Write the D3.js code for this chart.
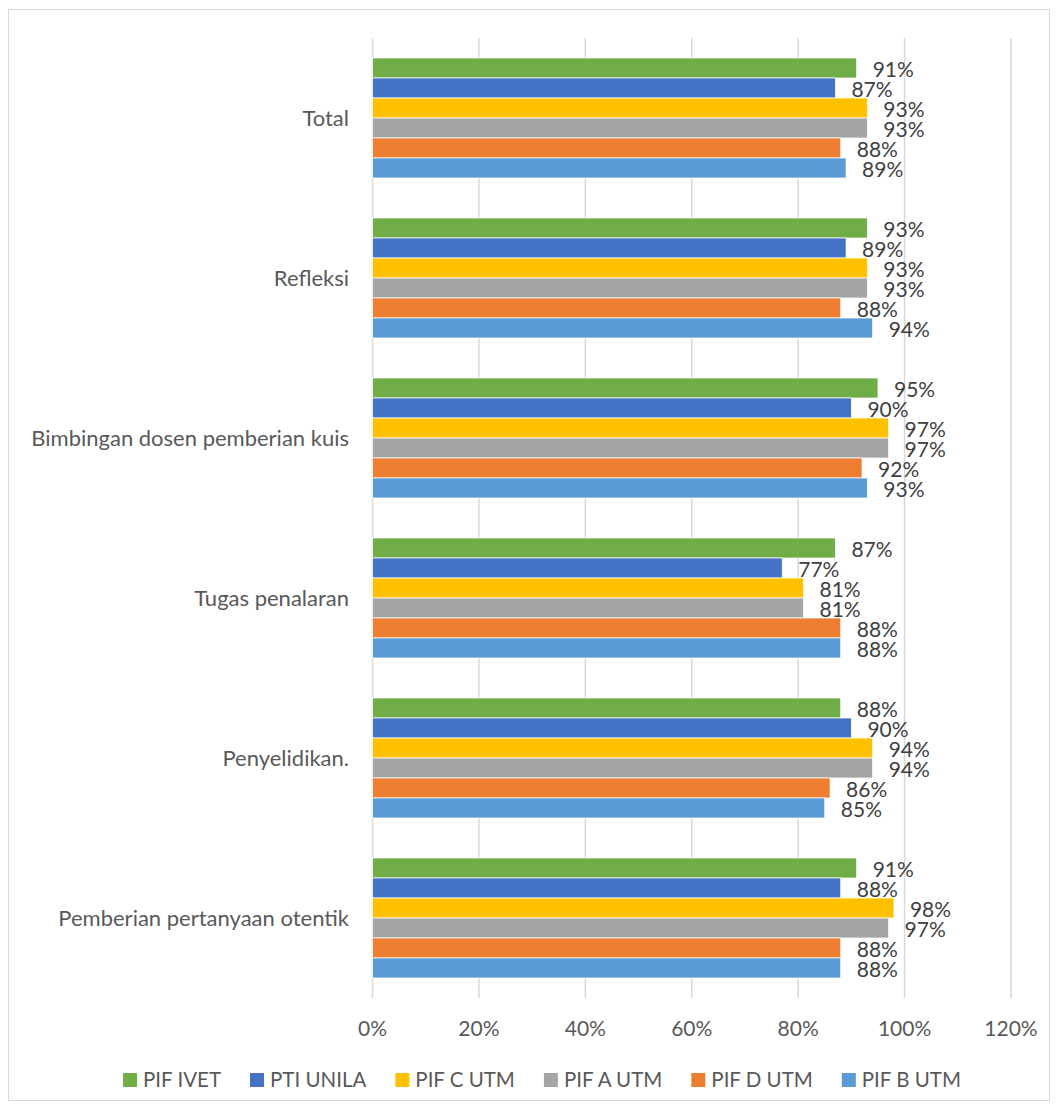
<!doctype html>
<html lang="en">
<head>
  <meta charset="utf-8">
  <title>Grouped bars</title>
  <style>
  body { margin: 0; background: #fff; }
  text { font-family: Lato, "Open Sans", sans-serif; }
  </style>
</head>
<body>
<div id="chart"></div>
<script src="https://d3js.org/d3.v7.min.js"></script>
<script>
// categories, top to bottom as drawn
var categories = ["Total", "Refleksi", "Bimbingan dosen pemberian kuis", "Tugas penalaran", "Penyelidikan.", "Pemberian pertanyaan otentik"];
// series, top to bottom inside each group
var series = ["PIF IVET", "PTI UNILA", "PIF C UTM", "PIF A UTM", "PIF D UTM", "PIF B UTM"];
var colors = ["#70ad47", "#4472c4", "#ffc000", "#a5a5a5", "#ed7d31", "#5b9bd5"];

var pifIvet  = [91, 93, 95, 87, 88, 91];
var ptiUnila = [87, 89, 90, 77, 90, 88];
var pifC     = [93, 93, 97, 81, 94, 98];
var pifA     = [93, 93, 97, 81, 94, 97];
var pifD     = [88, 88, 92, 88, 86, 88];
var pifB     = [89, 94, 93, 88, 85, 88];
var values = [pifIvet, ptiUnila, pifC, pifA, pifD, pifB];

var ticks = [0, 20, 40, 60, 80, 100, 120];

//------------------svg
var width = 1058, height = 1111;
var svg = d3.select("#chart").append("svg")
    .attr("width", width).attr("height", height);

svg.append("rect")
    .attr("x", 8.5).attr("y", 9.5)
    .attr("width", 1041).attr("height", 1091)
    .attr("fill", "#fff").attr("stroke", "#d9d9d9").attr("stroke-width", 1);

var plotLeft = 372.5, plotRight = 1011, plotTop = 38, plotBottom = 998;

var x = d3.scaleLinear().domain([0, 120]).range([plotLeft, plotRight]);
var y0 = d3.scaleBand().domain(categories).range([plotTop, plotBottom]).paddingInner(0.25).paddingOuter(0.125);
var y1 = d3.scaleBand().domain(series).range([0, y0.bandwidth()]);

//------------------grid
svg.append("g").selectAll("line").data(ticks).enter()
    .append("line")
    .attr("x1", d => x(d)).attr("x2", d => x(d))
    .attr("y1", plotTop).attr("y2", plotBottom)
    .attr("stroke", "#d9d9d9").attr("stroke-width", 1.5);

svg.append("g").selectAll("text").data(ticks).enter()
    .append("text")
    .attr("x", d => x(d)).attr("y", 1036)
    .attr("text-anchor", "middle")
    .attr("font-size", "21px").attr("fill", "#595959")
    .text(d => d + "%");

//------------------category labels
svg.append("g").selectAll("text").data(categories).enter()
    .append("text")
    .attr("x", 349).attr("y", d => y0(d) + y0.bandwidth() / 2)
    .attr("dy", "0.35em")
    .attr("text-anchor", "end")
    .attr("font-size", "22px").attr("fill", "#595959")
    .text(d => d);

//------------------bars
var groups = svg.append("g").selectAll("g").data(categories).enter()
    .append("g")
    .attr("transform", d => "translate(0," + y0(d) + ")");

groups.each(function(cat, ci) {
  var g = d3.select(this);
  series.forEach(function(s, si) {
    var v = values[si][ci];
    g.append("rect")
        .attr("x", x(0)).attr("y", y1(s))
        .attr("width", x(v) - x(0)).attr("height", y1.bandwidth())
        .attr("fill", colors[si])
        .attr("stroke", "#fff").attr("stroke-width", 0.75);
    g.append("text")
        .attr("x", x(v) + 16).attr("y", y1(s) + y1.bandwidth() / 2 + 2)
        .attr("dy", "0.35em")
        .attr("font-size", "21px").attr("fill", "#404040")
        .text(v + "%");
  });
});

//------------------legend
var legend = svg.append("g").attr("class", "legend");
var lx = 0;
series.forEach(function(s, i) {
  var item = legend.append("g").attr("transform", "translate(" + lx + ",0)");
  item.append("rect").attr("x", 0).attr("y", -7).attr("width", 14).attr("height", 14).attr("fill", colors[i]);
  var t = item.append("text").attr("x", 20).attr("y", 0).attr("dy", "0.35em")
      .attr("font-size", "20.5px").attr("fill", "#595959").text(s);
  lx += 20 + t.node().getComputedTextLength() + 29;
});
lx -= 29;
legend.attr("transform", "translate(" + (542 - lx / 2) + ",1080)");
</script>
</body>
</html>
